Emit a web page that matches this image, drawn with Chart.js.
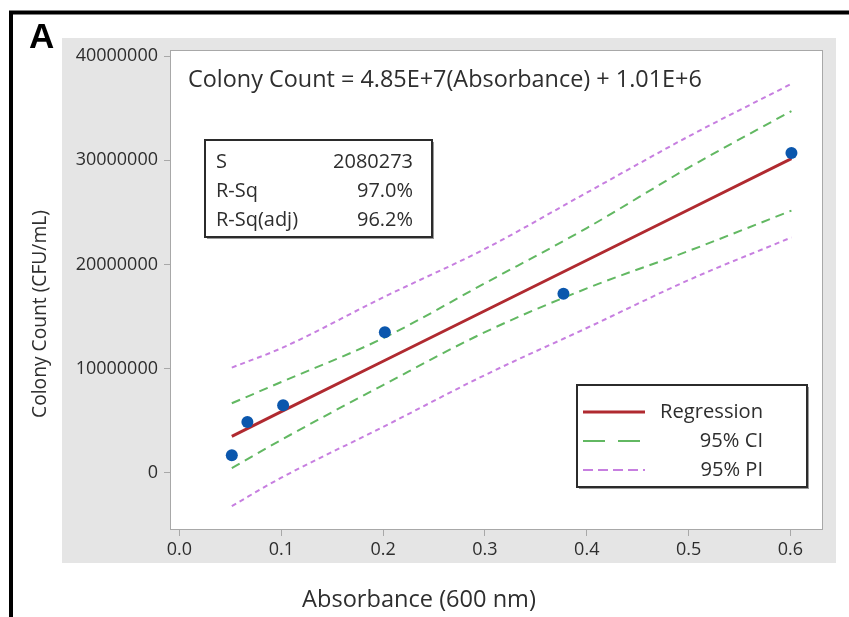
<!DOCTYPE html>
<html>
<head>
<meta charset="utf-8">
<script src="https://cdn.jsdelivr.net/npm/chart.js@4/dist/chart.umd.min.js"></script>
<style>
  html, body { margin: 0; padding: 0; background: #ffffff; }
  #wrap { width: 849px; height: 617px; position: relative; }
</style>
</head>
<body>
<div id="wrap"><canvas id="chart" width="849" height="617"></canvas></div>
<script>
// Measured samples: absorbance at 600 nm vs. plate count
const absorbance  = [0.0514, 0.0667, 0.1018, 0.2017, 0.3771, 0.601];
const colonyCount = [1690000, 4880000, 6480000, 13500000, 17200000, 30700000];

// Fitted line and interval bands, sampled along the absorbance range
const bandX     = [0.0514, 0.1, 0.2, 0.3, 0.4, 0.5, 0.601];
const fitValues = [3500000, 5860000, 10710000, 15560000, 20410000, 25260000, 30160000];
const ciUpper   = [6670000, 8710000, 12920000, 18200000, 23500000, 29300000, 34740000];
const ciLower   = [450000, 3160000, 8420000, 13500000, 17700000, 21300000, 25170000];
const piUpper   = [10100000, 11960000, 16840000, 21500000, 26900000, 32300000, 37350000];
const piLower   = [-3200000, -480000, 4400000, 9380000, 13900000, 18500000, 22600000];

// Axis ticks
const xTicks = [0, 0.1, 0.2, 0.3, 0.4, 0.5, 0.6];
const yTicks = [0, 10000000, 20000000, 30000000, 40000000];

// Annotation text
const equationText = 'Colony Count = 4.85E+7(Absorbance) + 1.01E+6';
const statLabels = ['S', 'R-Sq', 'R-Sq(adj)'];
const statValues = ['2080273', '97.0%', '96.2%'];
const legendLabels = ['Regression', '95% CI', '95% PI'];
const panelLetter = 'A';
const xTitle = 'Absorbance (600 nm)';
const yTitle = 'Colony Count (CFU/mL)';

const FONT = '"Open Sans", "Noto Sans", "DejaVu Sans", sans-serif';
const TEXT = '#2e2e2e';
const RED = '#b02a30';
const GREEN = '#62b862';
const PURPLE = '#c77fe0';
const BLUE = '#0b57ad';

const pairs = (xs, ys) => xs.map((x, i) => ({ x: x, y: ys[i] }));

// Font size that makes `text` span `width` pixels
function fitSize(ctx, text, width, weight) {
  ctx.font = weight + ' 20px ' + FONT;
  return 20 * width / ctx.measureText(text).width;
}

function boxWithShadow(ctx, x0, y0, x1, y1) {
  ctx.save();
  ctx.fillStyle = '#9a9a9a';
  ctx.fillRect(x0 + 2, y0 + 2, x1 - x0, y1 - y0);
  ctx.fillStyle = '#ffffff';
  ctx.fillRect(x0, y0, x1 - x0, y1 - y0);
  ctx.strokeStyle = '#2b2b2b';
  ctx.lineWidth = 2;
  ctx.strokeRect(x0, y0, x1 - x0, y1 - y0);
  ctx.restore();
}

const framePlugin = {
  id: 'frame',
  beforeDraw(chart) {
    const ctx = chart.ctx;
    const a = chart.chartArea;
    ctx.save();
    ctx.fillStyle = '#ffffff';
    ctx.fillRect(0, 0, chart.width, chart.height);
    // grey figure region
    ctx.fillStyle = '#e5e5e5';
    ctx.fillRect(62, 38, 774, 525);
    // white data region
    ctx.fillStyle = '#ffffff';
    ctx.fillRect(a.left, a.top, a.right - a.left, a.bottom - a.top);
    // outer black frame (top and left)
    ctx.strokeStyle = '#000000';
    ctx.lineWidth = 4;
    ctx.beginPath();
    ctx.moveTo(11, chart.height);
    ctx.lineTo(11, 12.5);
    ctx.lineTo(chart.width, 12.5);
    ctx.stroke();
    // panel letter
    ctx.fillStyle = '#000000';
    ctx.font = 'bold 35px "Liberation Sans", Arial, sans-serif';
    ctx.textAlign = 'left';
    ctx.textBaseline = 'alphabetic';
    ctx.fillText(panelLetter, 29, 48);
    ctx.restore();
  },
  afterDraw(chart) {
    const ctx = chart.ctx;
    const a = chart.chartArea;
    ctx.save();
    // data region border
    ctx.strokeStyle = '#a8a8a8';
    ctx.lineWidth = 1;
    ctx.strokeRect(a.left + 0.5, a.top + 0.5, a.right - a.left - 1, a.bottom - a.top - 1);

    ctx.fillStyle = TEXT;
    ctx.textBaseline = 'alphabetic';

    // regression equation
    ctx.font = fitSize(ctx, equationText, 514, 'normal') + 'px ' + FONT;
    ctx.textAlign = 'left';
    ctx.fillText(equationText, 188, 87);

    // axis titles
    ctx.font = fitSize(ctx, xTitle, 234, 'normal') + 'px ' + FONT;
    ctx.textAlign = 'center';
    ctx.fillText(xTitle, 419, 607);
    ctx.save();
    ctx.translate(46, 314);
    ctx.rotate(-Math.PI / 2);
    ctx.font = fitSize(ctx, yTitle, 208, 'normal') + 'px ' + FONT;
    ctx.fillText(yTitle, 0, 0);
    ctx.restore();

    // summary statistics box
    boxWithShadow(ctx, 205, 140, 432, 237);
    ctx.fillStyle = TEXT;
    const statSize = fitSize(ctx, statValues[0], 80, 'normal');
    ctx.font = statSize + 'px ' + FONT;
    statLabels.forEach((t, i) => {
      const y = 168 + i * 29;
      ctx.textAlign = 'left';
      ctx.fillText(t, 216, y);
      ctx.textAlign = 'right';
      ctx.fillText(statValues[i], 413, y);
    });

    // legend box: one entry per line style (fit, CI, PI)
    boxWithShadow(ctx, 577, 385, 807, 487);
    const ds = chart.data.datasets;
    const legendSets = [ds[1], ds[2], ds[4]];
    const legendDash = [[], [22, 13], [10, 5]];
    ctx.font = fitSize(ctx, legendLabels[0], 103, 'normal') + 'px ' + FONT;
    legendSets.forEach((set, i) => {
      const y = 412 + i * 29;
      ctx.strokeStyle = set.borderColor;
      ctx.lineWidth = set.borderWidth;
      ctx.setLineDash(legendDash[i]);
      ctx.beginPath();
      ctx.moveTo(583, y);
      ctx.lineTo(645, y);
      ctx.stroke();
      ctx.setLineDash([]);
      ctx.fillStyle = TEXT;
      ctx.textAlign = 'right';
      ctx.fillText(legendLabels[i], 763, y + 6);
    });
    ctx.restore();
  }
};

const tickFont = { family: FONT, size: 18 };

new Chart(document.getElementById('chart'), {
  type: 'scatter',
  data: {
    datasets: [
      {
        label: 'Samples',
        data: pairs(absorbance, colonyCount),
        pointRadius: 6,
        pointHoverRadius: 6,
        pointBackgroundColor: BLUE,
        pointBorderColor: BLUE,
        pointBorderWidth: 0,
        showLine: false
      },
      {
        type: 'line',
        label: legendLabels[0],
        data: pairs(bandX, fitValues),
        borderColor: RED,
        borderWidth: 3,
        pointRadius: 0,
        fill: false,
        tension: 0
      },
      {
        type: 'line',
        label: legendLabels[1],
        data: pairs(bandX, ciUpper),
        borderColor: GREEN,
        borderWidth: 2,
        borderDash: [9, 6],
        pointRadius: 0,
        fill: false,
        cubicInterpolationMode: 'monotone'
      },
      {
        type: 'line',
        label: legendLabels[1] + ' lower',
        data: pairs(bandX, ciLower),
        borderColor: GREEN,
        borderWidth: 2,
        borderDash: [9, 6],
        pointRadius: 0,
        fill: false,
        cubicInterpolationMode: 'monotone'
      },
      {
        type: 'line',
        label: legendLabels[2],
        data: pairs(bandX, piUpper),
        borderColor: PURPLE,
        borderWidth: 2,
        borderDash: [5, 4],
        pointRadius: 0,
        fill: false,
        cubicInterpolationMode: 'monotone'
      },
      {
        type: 'line',
        label: legendLabels[2] + ' lower',
        data: pairs(bandX, piLower),
        borderColor: PURPLE,
        borderWidth: 2,
        borderDash: [5, 4],
        pointRadius: 0,
        fill: false,
        cubicInterpolationMode: 'monotone'
      }
    ]
  },
  options: {
    responsive: false,
    animation: false,
    events: [],
    layout: { padding: { left: 0, top: 50, right: 26, bottom: 0 } },
    plugins: {
      legend: { display: false },
      tooltip: { enabled: false },
      title: { display: false }
    },
    scales: {
      x: {
        type: 'linear',
        min: -0.0093,
        max: 0.632,
        afterBuildTicks: axis => { axis.ticks = xTicks.map(v => ({ value: v })); },
        afterFit: axis => { axis.height = 87; },
        ticks: {
          font: tickFont,
          color: TEXT,
          padding: 3,
          maxRotation: 0,
          includeBounds: false,
          callback: v => Number(v).toFixed(1)
        },
        grid: { drawOnChartArea: false, drawTicks: true, tickLength: 6, color: '#a8a8a8' },
        border: { display: false }
      },
      y: {
        type: 'linear',
        min: -5500000,
        max: 40600000,
        afterBuildTicks: axis => { axis.ticks = yTicks.map(v => ({ value: v })); },
        afterFit: axis => { axis.width = 170; },
        ticks: {
          font: tickFont,
          color: TEXT,
          padding: 6,
          includeBounds: false,
          callback: v => String(Math.round(v))
        },
        grid: { drawOnChartArea: false, drawTicks: true, tickLength: 6, color: '#a8a8a8' },
        border: { display: false }
      }
    }
  },
  plugins: [framePlugin]
});
</script>
</body>
</html>
